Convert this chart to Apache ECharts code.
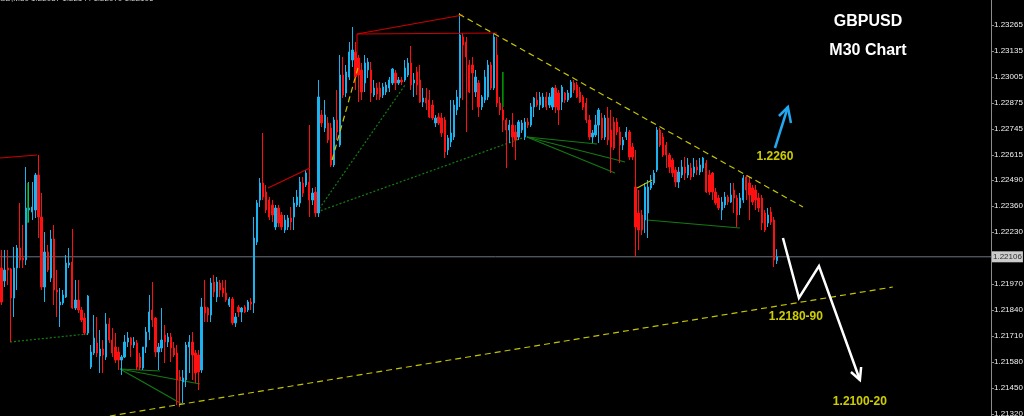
<!DOCTYPE html>
<html><head><meta charset="utf-8">
<script src="https://cdn.jsdelivr.net/npm/echarts@6/dist/echarts.min.js"></script>
<style>html,body{margin:0;padding:0;background:#000;}#c{width:1024px;height:416px;}</style>
</head><body><div id="c"></div>
<script>
const opens=[
1.22050,1.21985,1.22050,1.22045,1.21900,1.22050,1.22150,1.22100,1.22090,1.22340,
1.22330,1.22340,1.22515,1.22305,1.21955,1.22130,1.22000,1.22195,1.21940,1.21865,
1.21875,1.21905,1.22065,1.22080,1.21850,1.21890,1.21840,1.21800,1.21725,1.21555,
1.21625,1.21675,1.21610,1.21645,1.21605,1.21770,1.21690,1.21655,1.21630,1.21590,
1.21605,1.21680,1.21700,1.21665,1.21675,1.21605,1.21550,1.21655,1.21730,1.21840,
1.21800,1.21630,1.21650,1.21715,1.21680,1.21705,1.21650,1.21625,1.21505,1.21480,
1.21490,1.21655,1.21680,1.21625,1.21615,1.21540,1.21855,1.21850,1.21815,1.21980,
1.21905,1.21975,1.21950,1.21925,1.21865,1.21895,1.21775,1.21855,1.21830,1.21855,
1.21840,1.21880,1.21875,1.22180,1.22390,1.22475,1.22430,1.22390,1.22365,1.22255,
1.22350,1.22315,1.22240,1.22255,1.22300,1.22305,1.22365,1.22375,1.22475,1.22465,
1.22480,1.22390,1.22430,1.22325,1.22815,1.22750,1.22775,1.22750,1.22565,1.22790,1.22665,
1.23015,1.22925,1.23005,1.23090,1.23130,1.23100,1.23040,1.22975,1.23040,1.23040,
1.22915,1.22950,1.22950,1.22915,1.22930,1.22950,1.22975,1.23025,1.22975,1.22990,
1.22990,1.23015,1.23075,1.22975,1.23030,1.22990,1.22880,1.22900,1.22890,1.22865,
1.22775,1.22805,1.22800,1.22790,1.22640,1.22680,1.22705,1.22840,1.22900,1.23205,1.23180,
1.23065,1.23065,1.22930,1.22975,1.22855,1.22890,1.22905,1.23065,1.22950,1.23115,1.22875,
1.22840,1.22790,1.22740,1.22765,1.22730,1.22705,1.22740,1.22705,1.22780,1.22765,
1.22855,1.22890,1.22865,1.22855,1.22905,1.22865,1.22855,1.22950,1.22925,1.22880,1.22925,1.22890,
1.22905,1.22975,1.22965,1.22930,1.22905,1.22875,1.22790,1.22705,1.22715,
1.22765,1.22800,1.22705,1.22800,1.22740,1.22780,1.22780,1.22730,1.22665,1.22705,
1.22730,1.22655,1.22455,1.22325,1.22315,1.22290,1.22325,1.22450,1.22475,
1.22540,1.22740,1.22705,1.22665,1.22615,1.22590,1.22540,1.22480,1.22515,1.22555,1.22515,
1.22550,1.22525,1.22555,1.22530,1.22550,1.22575,1.22515,1.22525,1.22430,
1.22400,1.22340,1.22365,1.22405,1.22380,1.22440,1.22400,1.22350,
1.22390,1.22505,1.22475,1.22450,1.22440,1.22400,1.22400,1.22325,1.22275,1.22330,1.22290,1.22087
];
const closes=[
1.21880,1.22040,1.22040,1.21900,1.22050,1.22150,1.22090,1.22090,1.22350,1.22350,
1.22355,1.22515,1.22305,1.21955,1.22130,1.22040,1.22195,1.21940,1.21930,1.21880,
1.21915,1.22075,1.22075,1.21850,1.21890,1.21840,1.21790,1.21725,1.21910,1.21630,
1.21700,1.21625,1.21645,1.21615,1.21770,1.21690,1.21625,1.21590,1.21590,1.21605,
1.21680,1.21700,1.21665,1.21680,1.21555,1.21550,1.21655,1.21730,1.21830,1.21790,
1.21630,1.21655,1.21690,1.21680,1.21705,1.21650,1.21615,1.21490,1.21490,1.21500,
1.21665,1.21680,1.21615,1.21525,1.21530,1.21855,1.21825,1.21815,1.21975,1.21930,
1.21980,1.21940,1.21925,1.21890,1.21895,1.21775,1.21805,1.21830,1.21850,1.21830,
1.21880,1.21870,1.22200,1.22375,1.22475,1.22405,1.22340,1.22305,1.22315,1.22350,
1.22275,1.22255,1.22290,1.22300,1.22280,1.22375,1.22405,1.22480,1.22425,1.22525,
1.22390,1.22425,1.22325,1.22905,1.22775,1.22815,1.22690,1.22565,1.22790,1.22730,1.23015,
1.22915,1.23030,1.23130,1.23140,1.23005,1.23015,1.22930,1.23075,1.23080,1.22925,
1.22950,1.22920,1.22905,1.22955,1.22965,1.22990,1.23045,1.22975,1.22990,1.22980,
1.23050,1.23075,1.22965,1.22990,1.22965,1.22880,1.22900,1.22875,1.22805,1.22800,
1.22800,1.22775,1.22725,1.22630,1.22700,1.22725,1.22865,1.22905,1.23215,1.23165,1.23105,
1.22930,1.23025,1.23005,1.22855,1.22905,1.23005,1.23065,1.22950,1.23205,1.22875,1.22840,
1.22790,1.22740,1.22765,1.22705,1.22690,1.22780,1.22775,1.22780,1.22765,1.22855,
1.22900,1.22865,1.22905,1.22905,1.22855,1.22905,1.22950,1.22855,1.22840,1.22955,1.22890,1.22925,
1.22980,1.22940,1.22905,1.22880,1.22855,1.22790,1.22705,1.22725,1.22765,
1.22840,1.22700,1.22800,1.22690,1.22655,1.22650,1.22730,1.22665,1.22690,1.22730,
1.22605,1.22605,1.22255,1.22240,1.22240,1.22455,1.22455,1.22480,1.22525,
1.22740,1.22665,1.22615,1.22615,1.22555,1.22525,1.22480,1.22530,1.22555,1.22525,1.22565,
1.22505,1.22555,1.22540,1.22565,1.22600,1.22430,1.22430,1.22430,1.22375,
1.22350,1.22380,1.22405,1.22380,1.22415,1.22400,1.22315,1.22400,
1.22500,1.22440,1.22415,1.22380,1.22390,1.22350,1.22275,1.22240,1.22315,1.22280,1.22090,1.22106
];
const lows=[
1.21865,1.21955,1.21965,1.21680,1.21805,1.21940,1.22050,1.22050,1.22065,1.22280,
1.22290,1.22300,1.22200,1.21940,1.21880,1.22030,1.21980,1.21865,1.21805,1.21755,
1.21865,1.21900,1.22050,1.21845,1.21840,1.21825,1.21780,1.21715,1.21715,1.21545,
1.21615,1.21605,1.21525,1.21525,1.21590,1.21675,1.21605,1.21575,1.21540,1.21515,
1.21600,1.21655,1.21605,1.21650,1.21540,1.21540,1.21540,1.21625,1.21690,1.21755,
1.21605,1.21540,1.21630,1.21575,1.21655,1.21580,1.21605,1.21365,1.21355,1.21375,
1.21455,1.21525,1.21490,1.21475,1.21440,1.21525,1.21780,1.21780,1.21780,1.21905,
1.21880,1.21905,1.21905,1.21880,1.21855,1.21765,1.21755,1.21805,1.21780,1.21825,
1.21830,1.21840,1.21825,1.22165,1.22355,1.22390,1.22325,1.22290,1.22280,1.22240,
1.22255,1.22240,1.22225,1.22240,1.22240,1.22240,1.22355,1.22355,1.22405,1.22455,
1.22305,1.22365,1.22305,1.22305,1.22755,1.22730,1.22675,1.22555,1.22555,1.22690,1.22655,
1.22900,1.22905,1.22990,1.23055,1.22940,1.22880,1.22890,1.22930,1.23000,1.22880,
1.22905,1.22890,1.22890,1.22900,1.22915,1.22930,1.22965,1.22940,1.22965,1.22965,
1.22980,1.23005,1.22940,1.22905,1.22915,1.22875,1.22855,1.22840,1.22800,1.22790,
1.22755,1.22765,1.22705,1.22600,1.22615,1.22655,1.22690,1.22815,1.22855,1.22890,1.22730,
1.22925,1.22840,1.22905,1.22805,1.22840,1.22875,1.22890,1.22940,1.22940,1.22855,1.22815,
1.22730,1.22550,1.22675,1.22655,1.22590,1.22690,1.22725,1.22690,1.22750,1.22755,
1.22805,1.22855,1.22840,1.22850,1.22840,1.22850,1.22840,1.22825,1.22765,1.22840,1.22875,1.22880,
1.22900,1.22925,1.22900,1.22875,1.22840,1.22775,1.22690,1.22675,1.22705,
1.22675,1.22690,1.22690,1.22665,1.22525,1.22640,1.22715,1.22575,1.22640,1.22690,
1.22590,1.22590,1.22105,1.22140,1.22215,1.22225,1.22200,1.22440,1.22465,
1.22530,1.22655,1.22605,1.22550,1.22525,1.22505,1.22455,1.22450,1.22500,1.22490,1.22500,
1.22490,1.22505,1.22515,1.22515,1.22530,1.22425,1.22415,1.22390,1.22365,
1.22340,1.22290,1.22350,1.22365,1.22375,1.22325,1.22255,1.22315,
1.22375,1.22390,1.22290,1.22365,1.22340,1.22330,1.22240,1.22230,1.22255,1.22265,1.22055,1.22070
];
const highs=[
1.22140,1.22140,1.22140,1.22050,1.22155,1.22165,1.22375,1.22265,1.22555,1.22480,
1.22480,1.22525,1.22615,1.22425,1.22230,1.22165,1.22240,1.22265,1.22040,1.21950,
1.21940,1.22115,1.22150,1.22245,1.21990,1.21990,1.21855,1.21825,1.21915,1.21665,
1.21815,1.21805,1.21740,1.21690,1.21825,1.21800,1.21750,1.21725,1.21655,1.21615,
1.21715,1.21730,1.21705,1.21705,1.21690,1.21625,1.21655,1.21755,1.21915,1.21980,
1.21805,1.21675,1.21850,1.21765,1.21725,1.21725,1.21680,1.21665,1.21540,1.21540,
1.21680,1.21715,1.21730,1.21640,1.21640,1.21900,1.21990,1.21855,1.22000,1.22015,
1.22005,1.21990,1.21990,1.21990,1.21905,1.21905,1.21825,1.21865,1.21855,1.21865,
1.21890,1.21900,1.22305,1.22390,1.22500,1.22725,1.22465,1.22405,1.22390,1.22365,
1.22365,1.22330,1.22315,1.22315,1.22355,1.22405,1.22440,1.22505,1.22505,1.22540,
1.22765,1.22450,1.22455,1.22990,1.22840,1.22890,1.22805,1.22775,1.22805,1.22940,1.23115,
1.23105,1.23065,1.23180,1.23255,1.23180,1.23115,1.23075,1.23115,1.23100,1.23080,
1.22990,1.22975,1.22980,1.22975,1.22980,1.23005,1.23050,1.23040,1.23005,1.23005,
1.23090,1.23100,1.23160,1.23025,1.23055,1.23065,1.22950,1.22950,1.22940,1.22890,
1.22815,1.22825,1.22825,1.22805,1.22715,1.22890,1.22890,1.22940,1.23325,1.23225,1.23205,
1.23090,1.23105,1.23040,1.22990,1.22915,1.23040,1.23090,1.23080,1.23225,1.23205,1.22905,
1.22855,1.22800,1.22790,1.22825,1.22765,1.22790,1.22790,1.22800,1.22800,1.22875,
1.22905,1.22930,1.22930,1.22925,1.22930,1.22925,1.22955,1.22965,1.22940,1.22965,1.22930,1.22940,
1.22990,1.22990,1.22980,1.22955,1.22915,1.22900,1.22815,1.22740,1.22815,
1.22850,1.22825,1.22815,1.22855,1.22840,1.22805,1.22800,1.22755,1.22705,1.22755,
1.22740,1.22675,1.22640,1.22440,1.22340,1.22475,1.22490,1.22515,1.22540,
1.22755,1.22750,1.22725,1.22680,1.22625,1.22600,1.22555,1.22555,1.22590,1.22605,1.22600,
1.22575,1.22600,1.22590,1.22600,1.22605,1.22590,1.22540,1.22530,1.22450,
1.22415,1.22405,1.22430,1.22415,1.22475,1.22475,1.22415,1.22425,
1.22515,1.22515,1.22505,1.22465,1.22465,1.22425,1.22415,1.22340,1.22350,1.22355,1.22305,1.22144
];
const tickLabels=[1.23265,1.23135,1.23005,1.22875,1.22745,1.22615,1.22490,1.22360,1.22230,1.21970,1.21840,1.21710,1.21580,1.21450,1.21320];
const lastPrice=1.22106;
const slotCount=322;
const headerText='SD,M30 1.22087 1.22144 1.22070 1.22106';
const titleLines=['GBPUSD','M30 Chart'];
// overlay drawings in [bar index, price]
const yellowDashed=[
  [[148.6,1.2332],[260.4,1.22355]],
  [[35.2,1.2131],[289.6,1.21955]],
  [[107.4,1.2259],[115.8,1.2305]]
];
const yellowSolid=[[[206.5,1.2245],[211.4,1.2249]]];
const redLines=[
  [[-0.5,1.2260],[11.5,1.22615]],
  [[86.6,1.2245],[100.2,1.2255]],
  [[115.5,1.2322],[149.9,1.23315]],
  [[115.5,1.2322],[161.0,1.23225]],
  [[115.5,1.2322],[115.5,1.23125]]
];
const greenDotted=[
  [[2.75,1.2168],[27.8,1.2172]],
  [[102.5,1.2233],[131.1,1.22965]],
  [[102.5,1.2233],[170.1,1.22705]]
];
const greenSolid=[
  [[38.5,1.21545],[51.5,1.21535]],
  [[38.5,1.21545],[64.5,1.2147]],
  [[38.5,1.21545],[58.6,1.2137]],
  [[170.7,1.22705],[193.5,1.2267]],
  [[170.7,1.22705],[202.6,1.2258]],
  [[170.7,1.22705],[199.3,1.22525]],
  [[209.7,1.2229],[239.9,1.2225]]
];
const brightGreen=[
  [[8.6,1.22475],[8.6,1.22275]],
  [[162.9,1.2303],[162.9,1.22855]]
];
const blueArrow=[
  [[251.3,1.2265],[255.5,1.22855]],
  [[252.6,1.2281],[255.5,1.22855],[256.5,1.22775]]
];
const whiteArrow=[
  [[253.9,1.2220],[259.1,1.2190],[265.6,1.2206],[278.9,1.2149]],
  [[276.0,1.2153],[278.9,1.2149],[279.3,1.21555]]
];
const targetLabels=[
  {name:'1.2260',value:[251.3,1.22605]},
  {name:'1.2180-90',value:[258.1,1.21805]},
  {name:'1.2100-20',value:[278.9,1.2138]}
];

const candles=opens.map((o,i)=>[o,closes[i],lows[i],highs[i]]);
const cats=Array.from({length:slotCount},(_,i)=>String(i));
const FONT='"Liberation Sans", Arial, sans-serif';
const priceLine=[[[-0.5,lastPrice],[slotCount-0.5,lastPrice]]];

function lineSeries(paths,style,z){
  return {type:'lines',coordinateSystem:'cartesian2d',xAxisIndex:1,yAxisIndex:0,
    polyline:true,silent:true,z:z||3,lineStyle:Object.assign({opacity:1},style),
    data:paths.map(p=>({coords:p}))};
}

const chart=echarts.init(document.getElementById('c'),null,{renderer:'canvas'});
chart.setOption({
  backgroundColor:'#000000',
  animation:false,
  grid:{left:0,right:33,top:0,bottom:0,containLabel:false,outerBoundsMode:'none'},
  xAxis:[
    {type:'category',data:cats,boundaryGap:true,show:false},
    {type:'value',min:-0.5,max:slotCount-0.5,show:false}
  ],
  yAxis:{
    type:'value',position:'right',min:1.2131,max:1.2339,
    axisLine:{show:true,onZero:false,lineStyle:{color:'#8c8c8c',width:1}},
    axisTick:{show:true,inside:false,length:3,customValues:tickLabels,lineStyle:{color:'#8c8c8c'}},
    axisLabel:{customValues:tickLabels,formatter:v=>v.toFixed(5),color:'#f0f0f0',
      fontSize:8,fontFamily:FONT,margin:3},
    splitLine:{show:false}
  },
  graphic:[
    {type:'text',left:0,top:-5,silent:true,
      style:{text:headerText,fill:'#cfcfcf',font:'8px '+FONT}},
    {type:'text',x:868,y:22,silent:true,
      style:{text:titleLines[0],fill:'#ffffff',font:'bold 16px '+FONT,align:'center',verticalAlign:'middle'}},
    {type:'text',x:868,y:51,silent:true,
      style:{text:titleLines[1],fill:'#ffffff',font:'bold 16px '+FONT,align:'center',verticalAlign:'middle'}}
  ],
  series:[
    lineSeries(priceLine,{color:'#6b7580',width:1,type:'solid'},1),
    lineSeries(greenDotted,{color:'#118011',width:1.2,type:[2,2]},1),
    lineSeries(greenSolid,{color:'#137a13',width:1.2,type:'solid'},1),
    {
      type:'candlestick',xAxisIndex:0,yAxisIndex:0,z:2,
      data:candles,barWidth:1.8,
      itemStyle:{color:'#1ab2ef',color0:'#ff1010',borderColor:'#1ab2ef',borderColor0:'#ff1010',borderWidth:1}
    },
    lineSeries(redLines,{color:'#cc0000',width:1.2,type:'solid'},3),
    lineSeries(brightGreen,{color:'#00c800',width:1.2,type:'solid'},3),
    lineSeries(yellowDashed,{color:'#c4c400',width:1.2,type:[6,4]},3),
    lineSeries(yellowSolid,{color:'#c4c400',width:1.2,type:'solid'},3),
    lineSeries(blueArrow,{color:'#22a8f0',width:2.5,type:'solid'},4),
    lineSeries(whiteArrow,{color:'#ffffff',width:2.5,type:'solid'},4),
    {
      type:'scatter',xAxisIndex:1,yAxisIndex:0,symbolSize:0,silent:true,z:5,
      data:targetLabels,
      label:{show:true,position:'inside',formatter:'{b}',color:'#ffff00',
        fontSize:12,fontWeight:'bold',fontFamily:FONT}
    },
    {
      type:'scatter',xAxisIndex:1,yAxisIndex:0,symbolSize:0,silent:true,z:6,clip:false,
      data:[{name:lastPrice.toFixed(5),value:[slotCount-0.5,lastPrice]}],
      label:{show:true,position:'right',distance:1,formatter:'{b}',color:'#000',
        backgroundColor:'#ffffff',fontSize:8,fontFamily:FONT,padding:[2,1,1,1]}
    }
  ]
});
</script></body></html>
